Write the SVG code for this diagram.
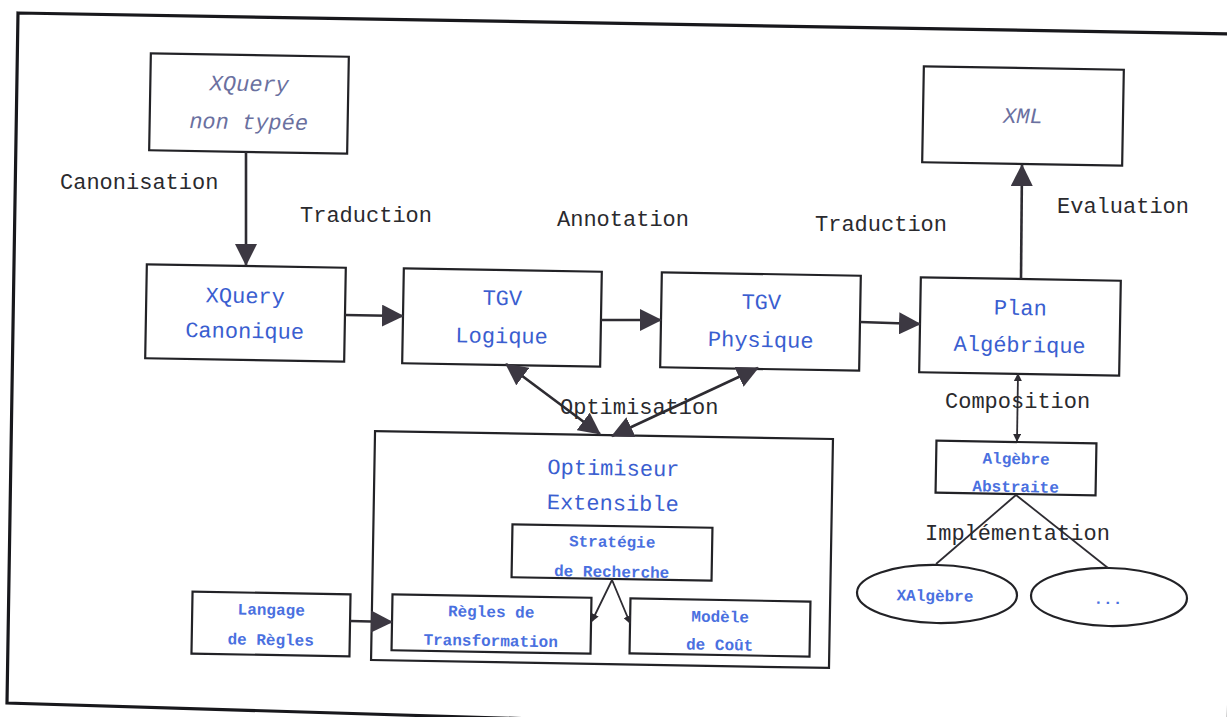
<svg xmlns="http://www.w3.org/2000/svg" width="1227" height="717" viewBox="0 0 1227 717">
  <style>
    .box { fill: #ffffff; stroke: #222226; stroke-width: 2.2; }
    .frame { fill: none; stroke: #18181c; stroke-width: 3.2; }
    .edge { fill: none; stroke: #2e2c32; stroke-width: 2.6; }
    .thin { fill: none; stroke: #2e2c32; stroke-width: 1.8; }
    .t { font-family: "Liberation Mono", "DejaVu Sans Mono", monospace; text-anchor: middle; }
    .big { font-size: 22px; fill: #3a5ed0; }
    .small { font-size: 16px; font-weight: bold; fill: #4a70e0; }
    .ital { font-size: 22px; font-style: italic; fill: #6a70a0; }
    .lbl { font-family: "Liberation Mono", "DejaVu Sans Mono", monospace; font-size: 22px; fill: #2a2a2e; }
  </style>
  <defs>
    <marker id="head" markerUnits="userSpaceOnUse" viewBox="0 0 22 22" refX="21" refY="11" markerWidth="22" markerHeight="22" orient="auto-start-reverse">
      <path d="M0,0 L22,11 L0,22 Z" fill="#3c3842"/>
    </marker>
    <marker id="tip" markerUnits="userSpaceOnUse" viewBox="0 0 8 8" refX="7" refY="4" markerWidth="8" markerHeight="8" orient="auto-start-reverse">
      <path d="M0,0 L8,4 L0,8 Z" fill="#2e2c32"/>
    </marker>
  </defs>

  <rect width="1227" height="717" fill="#ffffff"/>

  <!-- page frame -->
  <path class="frame" d="M18,13 L1240,34 L1228,740 L7,703 Z"/>

  <!-- nodes -->
  <g id="xquery-non-typee" transform="rotate(1 249 103)">
    <rect class="box" x="150" y="55" width="198" height="97"/>
    <text class="t ital" x="249" y="91">XQuery</text>
    <text class="t ital" x="249" y="129">non typée</text>
  </g>

  <g id="xquery-canonique" transform="rotate(1 245 313)">
    <rect class="box" x="146" y="266" width="199" height="94"/>
    <text class="t big" x="245" y="303">XQuery</text>
    <text class="t big" x="245" y="338">Canonique</text>
  </g>

  <g id="tgv-logique" transform="rotate(1 502 317)">
    <rect class="box" x="403" y="270" width="198" height="95"/>
    <text class="t big" x="502" y="305">TGV</text>
    <text class="t big" x="502" y="343">Logique</text>
  </g>

  <g id="tgv-physique" transform="rotate(1 761 321)">
    <rect class="box" x="661" y="274" width="199" height="95"/>
    <text class="t big" x="761" y="309">TGV</text>
    <text class="t big" x="761" y="347">Physique</text>
  </g>

  <g id="plan-algebrique" transform="rotate(1 1020 326)">
    <rect class="box" x="920" y="279" width="200" height="95"/>
    <text class="t big" x="1020" y="315">Plan</text>
    <text class="t big" x="1020" y="352">Algébrique</text>
  </g>

  <g id="xml" transform="rotate(1 1023 116)">
    <rect class="box" x="923" y="68" width="200" height="96"/>
    <text class="t ital" x="1023" y="123">XML</text>
  </g>

  <g id="optimiseur" transform="rotate(1 602 550)">
    <rect class="box" x="373" y="435" width="458" height="229"/>
    <text class="t big" x="612" y="475">Optimiseur</text>
    <text class="t big" x="612" y="510">Extensible</text>
  </g>

  <g id="strategie" transform="rotate(1 612 553)">
    <rect class="box" x="512" y="526" width="200" height="53"/>
    <text class="t small" x="612" y="547">Stratégie</text>
    <text class="t small" x="612" y="577">de Recherche</text>
  </g>

  <g id="regles-transformation" transform="rotate(1 491 624)">
    <rect class="box" x="392" y="596" width="199" height="56"/>
    <text class="t small" x="491" y="617">Règles de</text>
    <text class="t small" x="491" y="646">Transformation</text>
  </g>

  <g id="modele-cout" transform="rotate(1 720 627)">
    <rect class="box" x="630" y="600" width="180" height="55"/>
    <text class="t small" x="720" y="622">Modèle</text>
    <text class="t small" x="720" y="650">de Coût</text>
  </g>

  <g id="langage-regles" transform="rotate(1 271 624)">
    <rect class="box" x="192" y="593" width="158" height="62"/>
    <text class="t small" x="271" y="615">Langage</text>
    <text class="t small" x="271" y="645">de Règles</text>
  </g>

  <g id="algebre-abstraite" transform="rotate(1 1016 468)">
    <rect class="box" x="936" y="442" width="160" height="52"/>
    <text class="t small" x="1016" y="464">Algèbre</text>
    <text class="t small" x="1016" y="492">Abstraite</text>
  </g>

  <g id="xalgebre" transform="rotate(1 937 594)">
    <ellipse class="box" cx="937" cy="594" rx="80" ry="29"/>
    <text class="t small" x="935" y="601">XAlgèbre</text>
  </g>

  <g id="autres-algebres" transform="rotate(1 1109 597)">
    <ellipse class="box" cx="1109" cy="597" rx="78" ry="29"/>
    <text class="t small" x="1108" y="604">...</text>
  </g>

  <!-- connectors -->
  <g id="connectors">
    <line class="edge" x1="246" y1="152" x2="246" y2="265" marker-end="url(#head)"/>
    <line class="edge" x1="345" y1="315" x2="403" y2="316" marker-end="url(#head)"/>
    <line class="edge" x1="601" y1="320" x2="661" y2="320" marker-end="url(#head)"/>
    <line class="edge" x1="860" y1="322" x2="920" y2="324" marker-end="url(#head)"/>
    <line class="edge" x1="1021" y1="279" x2="1022" y2="165" marker-end="url(#head)"/>
    <line class="edge" x1="600" y1="434" x2="506" y2="364" marker-start="url(#head)" marker-end="url(#head)"/>
    <line class="edge" x1="612" y1="436" x2="758" y2="368" marker-start="url(#head)" marker-end="url(#head)"/>
    <line class="edge" x1="350" y1="621" x2="392" y2="622" marker-end="url(#head)"/>
    <polyline class="thin" points="592,621 612,580 630,623" marker-start="url(#tip)" marker-end="url(#tip)"/>
    <line class="thin" x1="1018" y1="374" x2="1017" y2="441" marker-start="url(#tip)" marker-end="url(#tip)"/>
    <line class="thin" x1="1016" y1="495" x2="936" y2="564"/>
    <line class="thin" x1="1016" y1="495" x2="1108" y2="568"/>
  </g>

  <!-- edge labels -->
  <g id="labels">
    <text class="lbl" x="60" y="189">Canonisation</text>
    <text class="lbl" x="300" y="222">Traduction</text>
    <text class="lbl" x="557" y="226">Annotation</text>
    <text class="lbl" x="815" y="231">Traduction</text>
    <text class="lbl" x="1057" y="213">Evaluation</text>
    <text class="lbl" x="560" y="414">Optimisation</text>
    <text class="lbl" x="945" y="408">Composition</text>
    <text class="lbl" x="925" y="540">Implémentation</text>
  </g>
</svg>
